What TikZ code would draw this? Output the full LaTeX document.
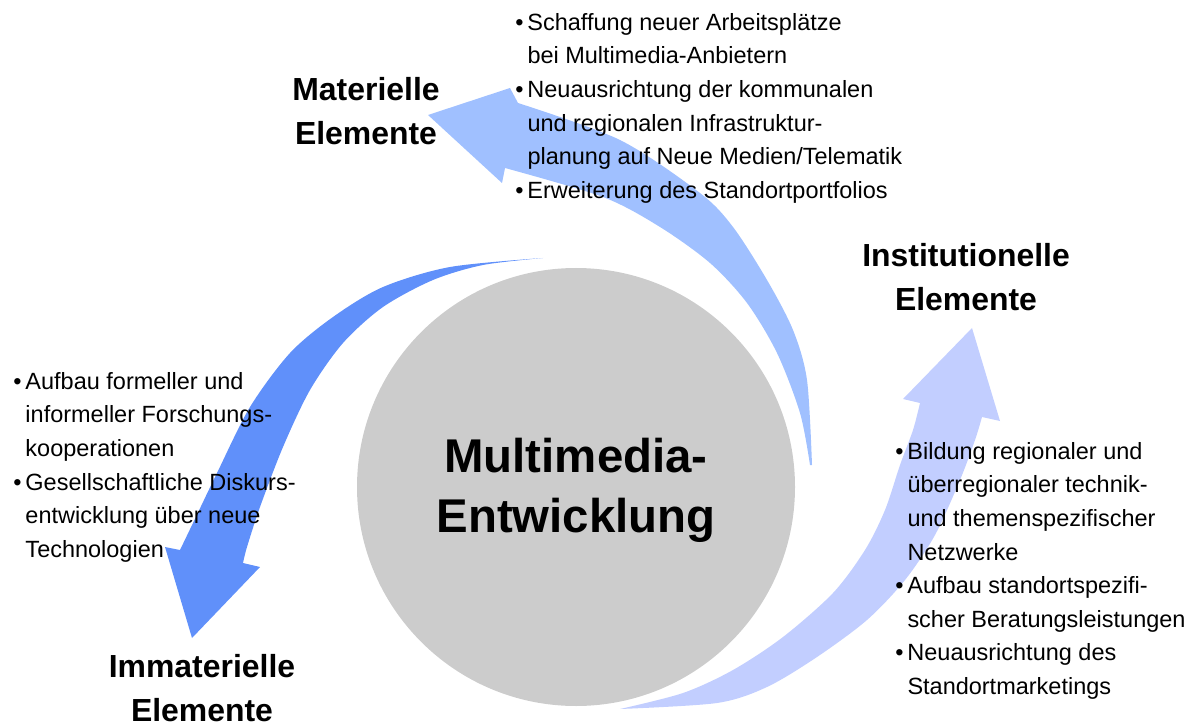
\documentclass[tikz,border=0pt]{standalone}
\usepackage{fontspec}
\setmainfont{Liberation Sans}
\definecolor{arrowtop}{HTML}{A0C0FF}
\definecolor{arrowleft}{HTML}{6090FA}
\definecolor{arrowright}{HTML}{C2CEFF}
\definecolor{coregray}{HTML}{CCCCCC}
\newcommand{\bul}{\makebox[0.52em][l]{\textbullet}}
\newcommand{\ind}{\hspace*{0.52em}}

\begin{document}
\begin{tikzpicture}[
  x=0.025cm, y=-0.025cm,
  coretxt/.style={
    align=center,
    font=\bfseries\fontsize{33.7}{42.5}\selectfont
  },
  head/.style={
    align=center,
    inner sep=0pt,
    font=\bfseries\fontsize{22.7}{31.3}\selectfont
  },
  items/.style={
    align=left,
    inner sep=0pt,
    anchor=north west,
    font=\fontsize{16.7}{23.9}\selectfont
  }
]
\useasboundingbox (0,0) rectangle (1201,727);

% curved arrows
\fill[arrowtop] plot[smooth] coordinates {(812,465) (807,380) (793,330) (767,280) (733,227) (700,193) (620,140) (518,103)}
  -- (510,88) -- (428,115) -- (502,183) -- (505,168)
  -- plot[smooth] coordinates {(505,168) (603,197) (660,227) (710,263) (747,303) (777,353) (800,413) (810,465)} -- cycle;

\fill[arrowleft] plot[smooth] coordinates {(543,258) (450,267) (383,287) (333,317) (290,353) (250,407) (217,473) (193,523) (180,550)}
  -- (165,547) -- (192,638) -- (260,567) -- (243,563)
  -- plot[smooth] coordinates {(243,563) (247,547) (260,507) (283,447) (310,390) (343,343) (383,307) (433,280) (483,265) (543,258)} -- cycle;

\fill[arrowright] plot[smooth] coordinates {(620,709) (717,703) (767,687) (817,657) (867,620) (905,580) (935,535) (960,480) (975,440) (982,417)}
  -- (1000,421) -- (972,328) -- (903,399) -- (920,403)
  -- plot[smooth] coordinates {(920,403) (913,430) (900,465) (885,510) (865,550) (833,593) (783,637) (733,670) (683,693) (620,709)} -- cycle;

% centre
\fill[coregray] (576,487) circle[radius=219];
\node[coretxt] (core) at (576,490) {Multimedia-\\Entwicklung};

% headings
\node[head] (mat) at (366,111) {Materielle\\Elemente};
\node[head] (inst) at (966,277) {Institutionelle\\Elemente};
\node[head] (immat) at (202,688) {Immaterielle\\Elemente};

% bullet lists
\node[items] (matlist) at (515,13) {
\bul Schaffung neuer Arbeitsplätze\\
\ind bei Multimedia-Anbietern\\
\bul Neuausrichtung der kommunalen\\
\ind und regionalen Infrastruktur-\\
\ind planung auf Neue Medien/Telematik\\
\bul Erweiterung des Standortportfolios
};

\node[items] (immatlist) at (13,372) {
\bul Aufbau formeller und\\
\ind informeller Forschungs-\\
\ind kooperationen\\
\bul Gesellschaftliche Diskurs-\\
\ind entwicklung über neue\\
\ind Technologien
};

\node[items] (instlist) at (895,442) {
\bul Bildung regionaler und\\
\ind überregionaler technik-\\
\ind und themenspezifischer\\
\ind Netzwerke\\
\bul Aufbau standortspezifi-\\
\ind scher Beratungsleistungen\\
\bul Neuausrichtung des\\
\ind Standortmarketings
};

\end{tikzpicture}
\end{document}
